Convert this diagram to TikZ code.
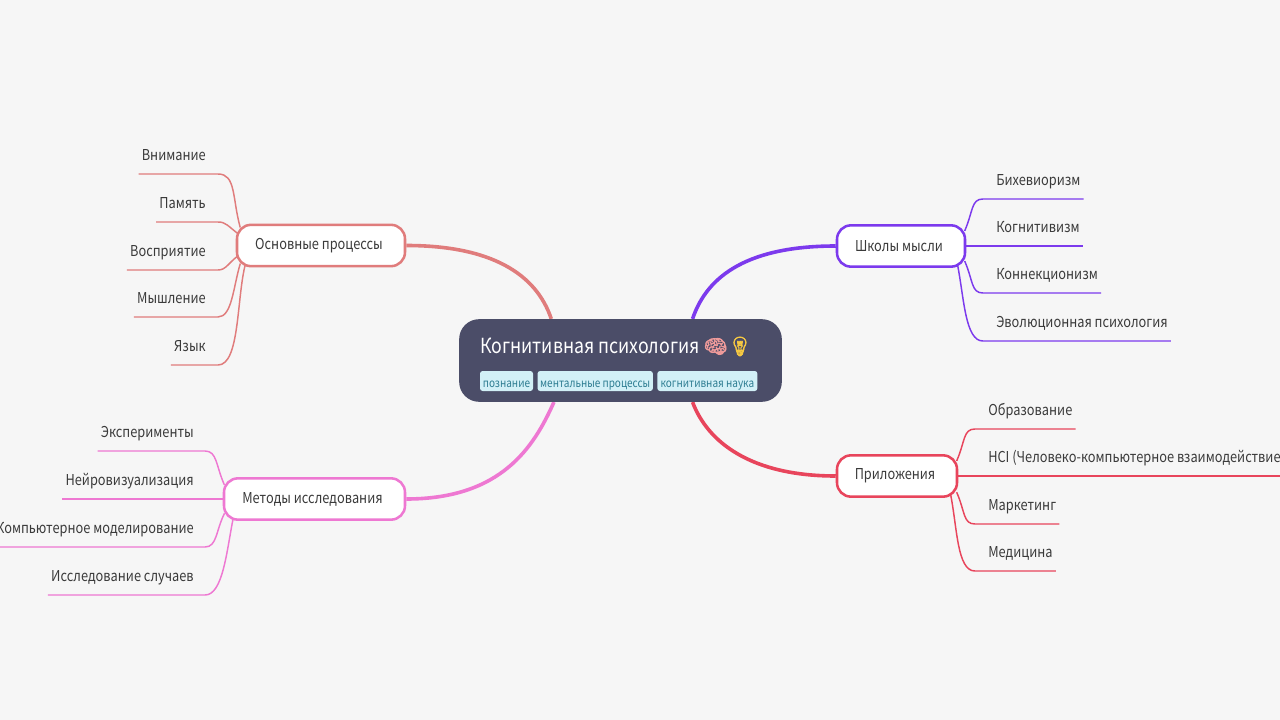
\documentclass[tikz,border=0pt]{standalone}
\usepackage{fontspec}
\setmainfont[FakeStretch=0.852]{Noto Sans CJK SC}
\newfontfamily\emojifont[FakeBold=2.5, Scale=0.92]{Noto Emoji}
\usetikzlibrary{positioning, backgrounds}

\definecolor{pagebg}{HTML}{F6F6F6}
\definecolor{rootfill}{HTML}{4B4D68}
\definecolor{tagfill}{HTML}{D2F0F7}
\definecolor{tagtext}{HTML}{2E7D92}
\definecolor{inktext}{HTML}{3A3A3A}
\definecolor{procscol}{HTML}{E07C7C}
\definecolor{schoolscol}{HTML}{7C3AED}
\definecolor{methodscol}{HTML}{EE78D2}
\definecolor{appscol}{HTML}{E8455C}
\definecolor{braincol}{HTML}{EE9A9A}
\definecolor{bulbcol}{HTML}{F5C842}

\tikzset{
  rootbox/.style={fill=rootfill, rounded corners=15pt, minimum width=242pt, minimum height=62pt, inner sep=0pt},
  tagbox/.style={fill=tagfill, text=tagtext, rounded corners=2pt, font=\fontsize{8.8}{9}\selectfont, minimum height=15pt, inner sep=0pt, text height=10pt, text depth=1pt},
  branchbox/.style={draw=#1, line width=1.9pt, fill=white, text=inktext, rounded corners=10.5pt, inner sep=0pt, minimum height=31pt, font=\fontsize{11.25}{12}\selectfont, execute at end node={\kern3pt}},
  leaf/.style={text=inktext, font=\fontsize{11.25}{12}\selectfont, inner xsep=2.25pt, inner ysep=0pt, text depth=9.75pt},
  branchline/.style={draw=#1, line width=2.7pt},
  leafline/.style={draw=#1, line width=1.1pt, shorten >=-3pt}
}

\begin{document}
\begin{tikzpicture}[x=0.75pt, y=-0.75pt, node distance=3pt]
  \useasboundingbox (0,0) rectangle (1280,720);

  % central topic
  \node[rootbox] (root) at (620.5,360.5) {};
  \node[text=white, anchor=base west, inner sep=0pt, font=\fontsize{15.6}{16}\selectfont] (title) at (480,353)
    {Когнитивная психология {\emojifont\textcolor{braincol}{🧠}\textcolor{bulbcol}{💡}}};
  \node[tagbox, minimum width=39.75pt] (tagcog) at (506.5,381) {познание};
  \node[tagbox, minimum width=86.5pt, right=of tagcog] (tagmental) {ментальные процессы};
  \node[tagbox, minimum width=75pt, right=of tagmental] (tagsci) {когнитивная наука};

  % main branches
  \node[branchbox=procscol, minimum width=126pt] (procs) at (321,245.5) {Основные процессы};
  \node[branchbox=schoolscol, minimum width=96pt] (schools) at (901,246) {Школы мысли};
  \node[branchbox=methodscol, minimum width=135.75pt] (methods) at (314.5,499) {Методы исследования};
  \node[branchbox=appscol, minimum width=90pt] (apps) at (897,476) {Приложения};

  % leaves of procs
  \node[leaf, anchor=south east] (attention) at (209,174) {Внимание};
  \node[leaf, anchor=south east] (memory) at (209,222) {Память};
  \node[leaf, anchor=south east] (perception) at (209,270) {Восприятие};
  \node[leaf, anchor=south east] (thinking) at (209,317) {Мышление};
  \node[leaf, anchor=south east] (language) at (209,365) {Язык};

  % leaves of methods
  \node[leaf, anchor=south east] (experiments) at (197,451) {Эксперименты};
  \node[leaf, anchor=south east] (neuro) at (197,499) {Нейровизуализация};
  \node[leaf, anchor=south east] (modeling) at (197,547) {Компьютерное моделирование};
  \node[leaf, anchor=south east] (cases) at (197,595) {Исследование случаев};

  % leaves of schools
  \node[leaf, anchor=south west] (behav) at (993,199) {Бихевиоризм};
  \node[leaf, anchor=south west] (cogn) at (993,246) {Когнитивизм};
  \node[leaf, anchor=south west] (connect) at (993,293) {Коннекционизм};
  \node[leaf, anchor=south west] (evol) at (993,341) {Эволюционная психология};

  % leaves of apps
  \node[leaf, anchor=south west] (educ) at (985,429) {Образование};
  \node[leaf, anchor=south west] (hci) at (985,476) {HCI (Человеко-компьютерное взаимодействие)};
  \node[leaf, anchor=south west] (market) at (985,524) {Маркетинг};
  \node[leaf, anchor=south west] (medic) at (985,571) {Медицина};

  \begin{scope}[on background layer]
    \fill[pagebg] (0,0) rectangle (1280,720);

    % root to branches
    \draw[branchline=procscol] (procs.east) .. controls +(85,0) and +(-15,-45) .. (root.149);
    \draw[branchline=schoolscol] (schools.west) .. controls +(-85,0) and +(15,-45) .. (root.30);
    \draw[branchline=methodscol] (methods.east) .. controls +(95,0) and +(-20,45) .. (root.212);
    \draw[branchline=appscol] (apps.west) .. controls +(-85,0) and +(15,40) .. (root.330);

    % procs to leaves
    \draw[leafline=procscol] (attention.south west) -- (attention.south east) -- ++(9,0) .. controls +(18,0) and +(-7,-26) .. (procs.165);
    \draw[leafline=procscol] (memory.south west) -- (memory.south east) -- ++(9,0) .. controls +(8,0) and +(-8,-6) .. (procs.171);
    \draw[leafline=procscol] (perception.south west) -- (perception.south east) -- ++(9,0) .. controls +(8,0) and +(-8,6) .. (procs.188);
    \draw[leafline=procscol] (thinking.south west) -- (thinking.south east) -- ++(9,0) .. controls +(14,0) and +(-6,20) .. (procs.195);
    \draw[leafline=procscol] (language.south west) -- (language.south east) -- ++(9,0) .. controls +(22,0) and +(-8,30) .. (procs.196);

    % methods to leaves
    \draw[leafline=methodscol] (experiments.south west) -- (experiments.south east) -- ++(8,0) .. controls +(12,0) and +(-7,-16) .. (methods.169);
    \draw[leafline=methodscol] (neuro.south west) -- (methods.west);
    \draw[leafline=methodscol] (modeling.south west) -- (modeling.south east) -- ++(8,0) .. controls +(12,0) and +(-7,14) .. (methods.191);
    \draw[leafline=methodscol] (cases.south west) -- (cases.south east) -- ++(8,0) .. controls +(18,0) and +(-6,30) .. (methods.195);

    % schools to leaves
    \draw[leafline=schoolscol] (behav.south east) -- (behav.south west) -- ++(-10,0) .. controls +(-12,0) and +(7,-16) .. (schools.16);
    \draw[leafline=schoolscol] (cogn.south east) -- (schools.east);
    \draw[leafline=schoolscol] (connect.south east) -- (connect.south west) -- ++(-10,0) .. controls +(-12,0) and +(7,16) .. (schools.344);
    \draw[leafline=schoolscol] (evol.south east) -- (evol.south west) -- ++(-10,0) .. controls +(-18,0) and +(6,30) .. (schools.339);

    % apps to leaves
    \draw[leafline=appscol] (educ.south east) -- (educ.south west) -- ++(-10,0) .. controls +(-12,0) and +(7,-16) .. (apps.17);
    \draw[leafline=appscol] (hci.south east) -- (apps.east);
    \draw[leafline=appscol] (market.south east) -- (market.south west) -- ++(-10,0) .. controls +(-12,0) and +(7,16) .. (apps.342);
    \draw[leafline=appscol] (medic.south east) -- (medic.south west) -- ++(-10,0) .. controls +(-18,0) and +(6,30) .. (apps.338);
  \end{scope}
\end{tikzpicture}
\end{document}
